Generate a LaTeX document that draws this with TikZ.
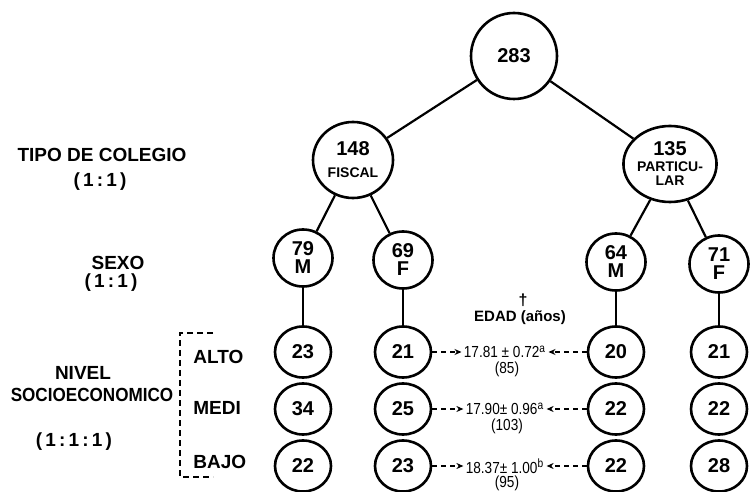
\documentclass[tikz,border=0pt]{standalone}
\usepackage{fontspec}
\setmainfont{Liberation Sans}
\newfontfamily\narrowfont[FakeStretch=0.85]{Liberation Sans}
\newfontfamily\condfont[FakeStretch=0.9]{Liberation Sans}
\usepackage{tikz}
\usetikzlibrary{arrows.meta,positioning,shapes.geometric}

\tikzset{
  rootnode/.style={draw,ellipse,line width=1.3pt,minimum width=43pt,minimum height=43pt,
                   inner sep=0pt,font=\fontsize{10}{11}\selectfont\bfseries},
  typenode/.style={draw,ellipse,line width=1.3pt,minimum width=40pt,minimum height=38pt,
                   inner sep=0pt,align=center,font=\fontsize{10}{11}\selectfont\bfseries},
  sexnode/.style={draw,ellipse,line width=1.3pt,minimum width=29.5pt,minimum height=28.5pt,
                  inner sep=0pt,align=center,font=\fontsize{10}{9}\selectfont\bfseries},
  grpnode/.style={draw,ellipse,line width=1.3pt,minimum width=28pt,minimum height=25.5pt,
                  inner sep=0pt,font=\fontsize{10}{11}\selectfont\bfseries},
  lbl/.style={inner sep=0pt,font=\fontsize{9.5}{10}\selectfont\bfseries},
  lvl/.style={lbl,anchor=west},
  val/.style={inner sep=1pt,font=\narrowfont\fontsize{8}{8}\selectfont},
  cnt/.style={inner sep=0pt,font=\narrowfont\fontsize{8}{8}\selectfont},
  edge/.style={line width=1.1pt},
  darr/.style={line width=0.7pt,dash pattern=on 2.5pt off 2pt,-{Stealth[length=3.5pt,width=3pt]}},
}
\newcommand{\smalltag}[1]{{\fontsize{7}{7}\selectfont #1}}

\begin{document}
\begin{tikzpicture}[x=0.5pt,y=-0.5pt]
  \useasboundingbox (0,0) rectangle (751,492);

  % Total
  \node[rootnode] (total) at (514,56) {283};

  % Tipo de colegio
  \node[typenode] (fiscal) at (353,160) {148\\\smalltag{FISCAL}};
  \node[typenode] (partic) at (670,164) {135\\[-3pt]\smalltag{PARTICU-}\\[-4pt]\smalltag{LAR}};
  \draw[edge] (total) -- (fiscal);
  \draw[edge] (total) -- (partic);

  % Sexo
  \node[sexnode] (fm) at (303,258) {79\\M};
  \node[sexnode] (ff) at (403,260) {69\\F};
  \node[sexnode] (pm) at (616,262) {64\\M};
  \node[sexnode] (pf) at (719,264) {71\\F};
  \draw[edge] (fiscal) -- (fm);
  \draw[edge] (fiscal) -- (ff);
  \draw[edge] (partic) -- (pm);
  \draw[edge] (partic) -- (pf);

  % Nivel socioeconomico: alto
  \node[grpnode] (fm-alto) at (303,352) {23};
  \node[grpnode] (ff-alto) at (403,352) {21};
  \node[grpnode] (pm-alto) at (616,352) {20};
  \node[grpnode] (pf-alto) at (719,352) {21};
  % medio
  \node[grpnode] (fm-medi) at (303,409) {34};
  \node[grpnode] (ff-medi) at (403,409) {25};
  \node[grpnode] (pm-medi) at (616,409) {22};
  \node[grpnode] (pf-medi) at (719,409) {22};
  % bajo
  \node[grpnode] (fm-bajo) at (303,466) {22};
  \node[grpnode] (ff-bajo) at (403,466) {23};
  \node[grpnode] (pm-bajo) at (616,466) {22};
  \node[grpnode] (pf-bajo) at (719,466) {28};

  \draw[edge] (fm) -- (fm-alto);
  \draw[edge] (ff) -- (ff-alto);
  \draw[edge] (pm) -- (pm-alto);
  \draw[edge] (pf) -- (pf-alto);

  % Edad
  \node[inner sep=0pt,font=\fontsize{8}{8}\selectfont\bfseries] (dag) at (523,300) {\textdagger};
  \node[inner sep=0pt,font=\fontsize{7.5}{8}\selectfont\bfseries] (edad) at (520,318) {EDAD (años)};

  \node[val] (v-alto) at (505,352) {17.81 ± 0.72\textsuperscript{a}};
  \node[cnt] (c-alto) at (507,369) {(85)};
  \node[val] (v-medi) at (505,409) {17.90± 0.96\textsuperscript{a}};
  \node[cnt] (c-medi) at (507,426) {(103)};
  \node[val] (v-bajo) at (505,466) {18.37± 1.00\textsuperscript{b}};
  \node[cnt] (c-bajo) at (507,483) {(95)};

  \draw[darr] (ff-alto) -- (v-alto);
  \draw[darr] (pm-alto) -- (v-alto);
  \draw[darr] (ff-medi) -- (v-medi);
  \draw[darr] (pm-medi) -- (v-medi);
  \draw[darr] (ff-bajo) -- (v-bajo);
  \draw[darr] (pm-bajo) -- (v-bajo);

  % Row labels
  \node[lbl] (tipo) at (102,155) {TIPO DE COLEGIO};
  \node[lbl] (tipo-r) at (100,182) {(\,1\,:\,1\,)};
  \node[lbl] (sexo) at (118,263) {SEXO};
  \node[lbl] (sexo-r) at (111,283) {(\,1\,:\,1\,)};
  \node[lbl] (nivel) at (83,373) {NIVEL};
  \node[lbl,font=\condfont\fontsize{9.5}{10}\selectfont\bfseries] (socio) at (92,395) {SOCIOECONOMICO};
  \node[lbl] (nivel-r) at (74,442) {(\,1\,:\,1\,:\,1\,)};

  % Bracket
  \draw[line width=0.8pt,dash pattern=on 3pt off 2pt] (213,333) -- (180,333) -- (180,477) -- (213,477);
  \node[lvl] (alto) at (193,357) {ALTO};
  \node[lvl] (medi) at (193,408) {MEDI};
  \node[lvl] (bajo) at (193,462) {BAJO};
\end{tikzpicture}
\end{document}
